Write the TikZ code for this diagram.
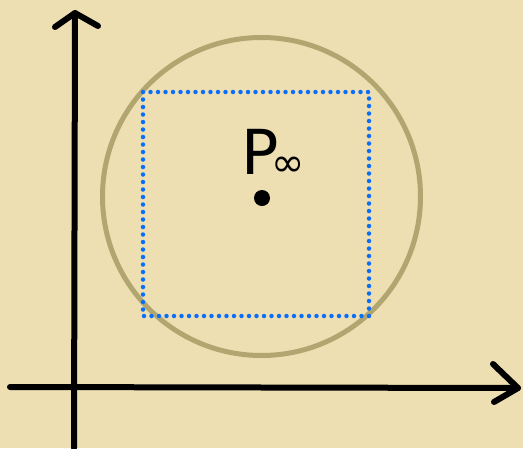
\documentclass[tikz,border=0pt]{standalone}
\usepackage{fontspec}
\setmainfont{DejaVu Sans}
\definecolor{parch}{RGB}{237,223,178}
\definecolor{olive}{RGB}{178,166,112}
\definecolor{dotblue}{RGB}{10,110,250}
\begin{document}
\begin{tikzpicture}[x=1pt,y=-1pt,
  axis/.style={line width=6pt,line cap=round,line join=round,black},
  ring/.style={line width=5pt,olive},
  dotbox/.style={line width=4.5pt,dotblue,line cap=round,dash pattern=on 0pt off 7.5pt},
  ptdot/.style={circle,fill=black,inner sep=0pt,minimum size=16pt},
  lbl/.style={inner sep=0pt,font=\fontsize{62}{62}\selectfont}]
\fill[parch] (0,0) rectangle (523,448);
\useasboundingbox (0,0) rectangle (523,448);
% axes
\coordinate (ybot) at (74,448);
\coordinate (ytip) at (75,13);
\coordinate (xleft) at (10,387);
\coordinate (xtip) at (518,388);
\draw[axis] (ybot) -- (ytip);
\draw[axis] (55,27) -- (ytip) -- (98,26);
\draw[axis] (xleft) -- (xtip);
\draw[axis] (493,364) -- (xtip) -- (494,402);
% circle
\coordinate (c) at (261.5,196.5);
\draw[ring] (c) circle (159);
% dotted square
\coordinate (sq1) at (143,92);
\coordinate (sq2) at (369,316);
\draw[dotbox] (sq1) rectangle (sq2);
% point
\node[ptdot] (p) at (262,198) {};
\node[lbl,anchor=south west] (lab) at (241,177) {P\kern-7pt\raisebox{-2pt}{\fontsize{40}{40}\selectfont ∞}};
\end{tikzpicture}
\end{document}
